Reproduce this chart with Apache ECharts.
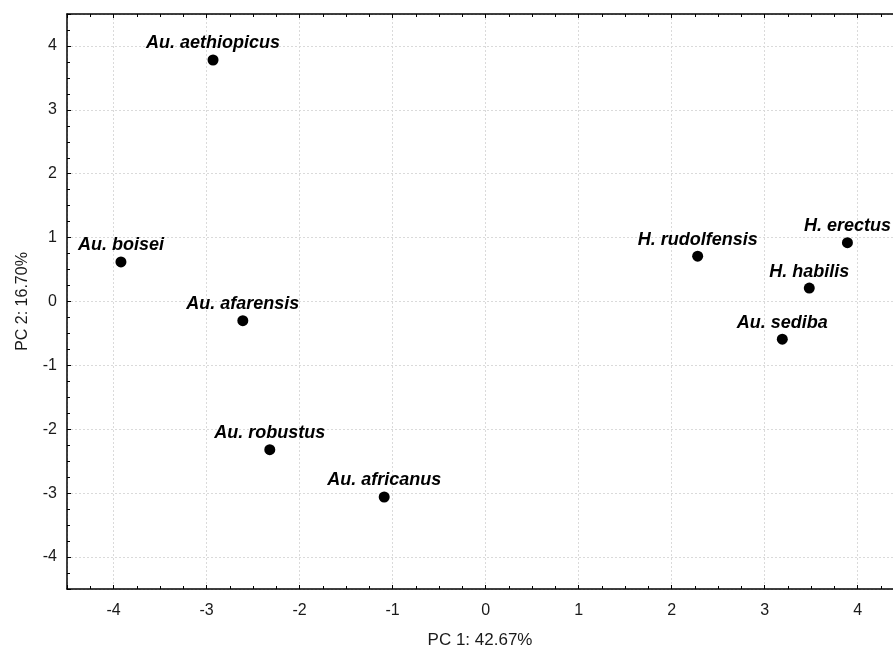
<!DOCTYPE html>
<html>
<head>
<meta charset="utf-8">
<script src="https://cdn.jsdelivr.net/npm/echarts@6/dist/echarts.min.js"></script>
<style>
  html, body { margin: 0; padding: 0; background: #fff; }
  #chart { width: 893px; height: 648px; }
</style>
</head>
<body>
<div id="chart"></div>
<script>
// species and PCA scores
var species = ['Au. aethiopicus', 'Au. boisei', 'Au. afarensis', 'Au. robustus', 'Au. africanus',
               'H. rudolfensis', 'H. erectus', 'H. habilis', 'Au. sediba'];
var pc1 = [-2.93, -3.92, -2.61, -2.32, -1.09, 2.28, 3.89, 3.48, 3.19];
var pc2 = [3.78, 0.62, -0.30, -2.32, -3.06, 0.71, 0.92, 0.21, -0.59];

var xMin = -4.5, xMax = 4.38;
var yMin = -4.5, yMax = 4.5;

var myChart = echarts.init(document.getElementById('chart'));

var points = species.map(function (name, i) {
    return { name: name, value: [pc1[i], pc2[i]] };
});

var font = 'Arial, "Liberation Sans", sans-serif';
var tickFont = { fontFamily: font, fontSize: 16, color: '#1a1a1a' };
var gridLine = { show: true, lineStyle: { color: '#dadada', type: [2, 2], width: 1 } };

var option = {
    backgroundColor: '#fff',
    animation: false,
    grid: { left: 67, right: 0, top: 14, bottom: 59, containLabel: false, outerBoundsMode: 'none' },
    xAxis: [{
        type: 'value',
        min: xMin, max: xMax,
        splitNumber: 9,
        name: 'PC 1: 42.67%',
        nameLocation: 'middle',
        nameGap: 43,
        nameTextStyle: { fontFamily: font, fontSize: 17, color: '#1a1a1a' },
        axisLine: { onZero: false, lineStyle: { color: '#000', width: 1.5 } },
        axisTick: { inside: true, length: 4, lineStyle: { color: '#000' } },
        minorTick: { show: true, splitNumber: 4, length: 3, lineStyle: { color: '#000' } },
        axisLabel: Object.assign({ margin: 14, showMinLabel: false, showMaxLabel: false }, tickFont),
        splitLine: gridLine
    }, {
        type: 'value',
        position: 'top',
        min: xMin, max: xMax,
        splitNumber: 9,
        axisLine: { onZero: false, lineStyle: { color: '#000', width: 1.5 } },
        axisTick: { inside: true, length: 4, lineStyle: { color: '#000' } },
        minorTick: { show: true, splitNumber: 4, length: 3, lineStyle: { color: '#000' } },
        axisLabel: { show: false },
        splitLine: { show: false }
    }],
    yAxis: {
        type: 'value',
        min: yMin, max: yMax,
        splitNumber: 9,
        name: 'PC 2: 16.70%',
        nameLocation: 'middle',
        nameGap: 36,
        nameTextStyle: { fontFamily: font, fontSize: 16, color: '#1a1a1a' },
        axisLine: { show: true, onZero: false, lineStyle: { color: '#000', width: 1.5 } },
        axisTick: { show: true, inside: true, length: 4, lineStyle: { color: '#000' } },
        minorTick: { show: true, splitNumber: 4, length: 3, lineStyle: { color: '#000' } },
        axisLabel: Object.assign({ margin: 10, showMinLabel: false, showMaxLabel: false }, tickFont),
        splitLine: gridLine
    },
    series: [{
        type: 'scatter',
        xAxisIndex: 0,
        symbolSize: 11,
        itemStyle: { color: '#000', opacity: 1 },
        label: {
            show: true,
            position: 'top',
            distance: 2,
            formatter: '{b}',
            fontFamily: font,
            fontSize: 18,
            fontWeight: 'bold',
            fontStyle: 'italic',
            color: '#000'
        },
        data: points
    }]
};

myChart.setOption(option);
</script>
</body>
</html>
